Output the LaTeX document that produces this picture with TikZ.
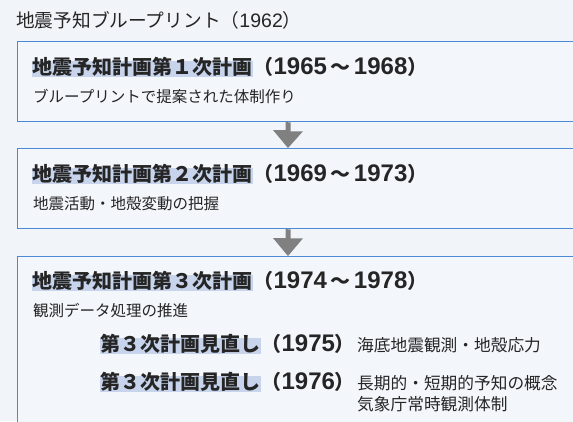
\documentclass[tikz,border=0pt]{standalone}
\usepackage{fontspec}
\setmainfont{Noto Sans CJK JP}
\newfontfamily\numfont{Liberation Sans}
\usetikzlibrary{positioning}

\definecolor{pagebg}{HTML}{F1F4F9}
\definecolor{boxfill}{HTML}{F3F6FB}
\definecolor{boxblue}{HTML}{4A8AD4}
\definecolor{hlblue}{HTML}{C7D4EC}
\definecolor{arrowgray}{HTML}{808080}
\definecolor{ink}{HTML}{252525}

\tikzset{
  planbox/.style={draw=boxblue, line width=1.3pt, fill=boxfill, anchor=north west,
    minimum width=620pt, minimum height=80pt, inner sep=0pt},
  plantitle/.style={fill=hlblue, inner xsep=0.5pt, inner ysep=0pt, text height=13pt,
    text depth=2.5pt, anchor=base west, text=ink, font=\fontsize{20}{24}\selectfont\bfseries},
  planyear/.style={inner sep=0pt, anchor=base west, text=ink, font=\fontsize{20}{24}\selectfont\bfseries},
  plansub/.style={inner sep=0pt, anchor=base west, text=ink, font=\fontsize{15.5}{19}\selectfont},
  plandesc/.style={plansub, font=\fontsize{16.7}{20}\selectfont}
}

\newcommand{\yr}[1]{{\fontsize{24}{24}\numfont #1}}
\newcommand{\yrto}{\hspace{3.5pt}～\hspace{3.5pt}}

\newcommand{\blockdown}[2]{%
  \fill[arrowgray] (#1) -- ++(2.5,0) -- ++(0,9) -- ++(12.5,0) -- (#2)
    -- ++(-15,-18) -- ++(12.5,0) -- ++(0,-9) -- cycle;}

\begin{document}
\begin{tikzpicture}[x=1pt, y=-1pt]
\fill[pagebg] (0,0) rectangle (573,421);
\useasboundingbox (0,0) rectangle (573,421);

\node [inner sep=0pt, anchor=base west, text=ink, font=\fontsize{18.7}{22}\selectfont] (blueprint) at (16,27) {地震予知ブループリント（{\fontsize{19.5}{22}\numfont 1962}）};

% the three plans
\node [planbox] (box1) at (16.5,41) {};
\node [planbox] (box2) at (16.5,148) {};
\node [planbox, minimum height=220pt] (box3) at (16.5,256) {};

\coordinate (arrx) at (288,0);
\blockdown{box1.south -| arrx}{box2.north -| arrx}
\blockdown{box2.south -| arrx}{box3.north -| arrx}

\node [plantitle] (t1) at (32,74) {地震予知計画第１次計画};
\node [planyear] (y1) at (t1.base east) {（\yr{1965}\yrto\yr{1968}）};
\node [plansub] (s1) at (33,102) {ブループリントで提案された体制作り};

\node [plantitle] (t2) at (32,181) {地震予知計画第２次計画};
\node [planyear] (y2) at (t2.base east) {（\yr{1969}\yrto\yr{1973}）};
\node [plansub] (s2) at (33,209) {地震活動・地殻変動の把握};

\node [plantitle] (t3) at (32,288) {地震予知計画第３次計画};
\node [planyear] (y3) at (t3.base east) {（\yr{1974}\yrto\yr{1978}）};
\node [plansub] (s3) at (33,316) {観測データ処理の推進};

% revisions
\node [plantitle] (r1) at (100,351) {第３次計画見直し};
\node [planyear] (ry1) at (r1.base east) {（\yr{1975}）};
\node [plandesc] (d1) at (357,351) {海底地震観測・地殻応力};

\node [plantitle] (r2) at (100,389) {第３次計画見直し};
\node [planyear] (ry2) at (r2.base east) {（\yr{1976}）};
\node [plandesc] (d2) at (357,389) {長期的・短期的予知の概念};
\node [plandesc] (d3) at ([yshift=-21pt]d2.base west) {気象庁常時観測体制};
\end{tikzpicture}
\end{document}
